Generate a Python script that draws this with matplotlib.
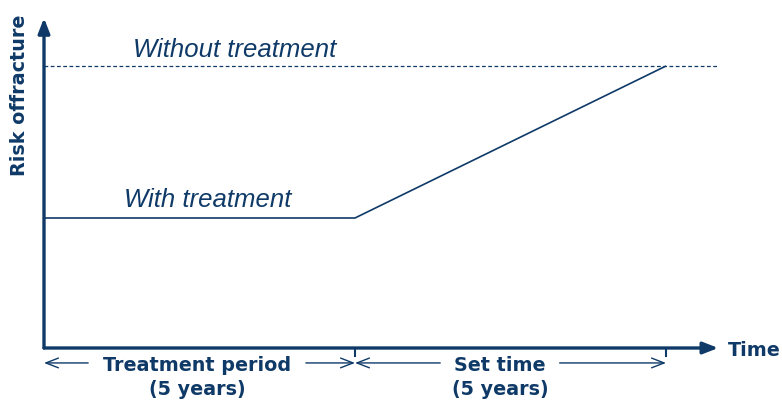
import matplotlib.pyplot as plt

# risk of fracture over time (years), arbitrary units
years = [0, 5, 10]
with_treatment = [0.461, 0.461, 1.0]
without_treatment = 1.0
period_titles = ["Treatment period", "Set time"]
period_lengths = ["(5 years)", "(5 years)"]
period_edges = [0, 5, 10]

navy = "#0f3a68"
plt.rcParams['font.family'] = ['Liberation Sans', 'DejaVu Sans']
bold_font = ['DejaVu Sans']

fig = plt.figure(figsize=(7.82, 4.03), dpi=100)
ax = fig.add_axes([44/782, 55/403, 684.2/782, 338.4/403])
ax.set_xlim(0, 11.0)
ax.set_ylim(0, 1.2)
ax.axis('off')

# axes with arrow heads
head = '-|>,head_length=0.9,head_width=0.35'
ax.annotate("", xy=(10.84, 0), xytext=(0, 0),
            arrowprops=dict(arrowstyle=head, color=navy, lw=2.4, shrinkA=0, shrinkB=0))
ax.annotate("", xy=(0, 1.17), xytext=(0, 0),
            arrowprops=dict(arrowstyle=head, color=navy, lw=2.4, shrinkA=0, shrinkB=0))

# curves
ax.plot([0, 10.84], [without_treatment, without_treatment], color=navy, lw=0.9,
        ls=(0, (3, 2)))
ax.plot(years, with_treatment, color=navy, lw=1.2, solid_capstyle='butt')

ax.text(1.43, 1.032, "Without treatment", style='italic', color=navy, fontsize=18.5,
        ha='left', va='baseline')
ax.text(1.29, 0.5, "With treatment", style='italic', color=navy, fontsize=18.5,
        ha='left', va='baseline')

# ticks at 5 and 10 years
for x in period_edges[1:]:
    ax.plot([x, x], [0, -0.03], color=navy, lw=1.5, clip_on=False)

# period arrows with labels
gaps = [(0.71, 4.21), (6.37, 8.29)]
ya = -0.053
for i in range(len(period_titles)):
    x0, x1 = period_edges[i], period_edges[i + 1]
    g0, g1 = gaps[i]
    kw = dict(arrowstyle='->,head_length=0.9,head_width=0.35', color=navy, lw=1.0,
              shrinkA=0, shrinkB=0)
    ax.annotate("", xy=(x0, ya), xytext=(g0, ya), arrowprops=kw, annotation_clip=False)
    ax.annotate("", xy=(x1, ya), xytext=(g1, ya), arrowprops=kw, annotation_clip=False)
    ax.text((g0 + g1) / 2, -0.062, period_titles[i], ha='center', va='center', color=navy,
            fontsize=13.8, fontweight='bold', family=bold_font, clip_on=False)
    ax.text((g0 + g1) / 2, -0.147, period_lengths[i], ha='center', va='center', color=navy,
            fontsize=13.8, fontweight='bold', family=bold_font, clip_on=False)

fig.text(20/782, 1 - 95/403, "Risk offracture", rotation=90, ha='center', va='center',
         color=navy, fontsize=13.8, fontweight='bold', family=bold_font)
fig.text(728/782, 1 - 350/403, "Time", ha='left', va='center', color=navy,
         fontsize=13.8, fontweight='bold', family=bold_font)

fig.savefig("out.png", dpi=100)
